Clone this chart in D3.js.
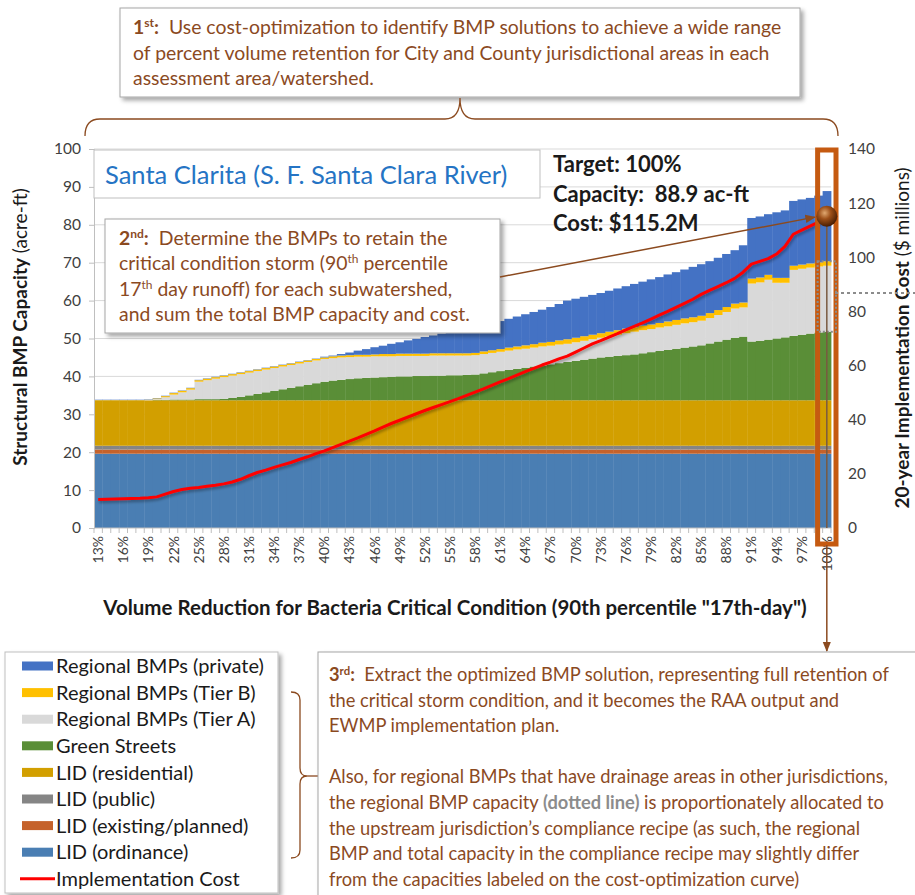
<!DOCTYPE html>
<html>
<head>
<meta charset="utf-8">
<script src="https://cdn.jsdelivr.net/npm/d3@7"></script>
<style>
  body { margin: 0; background: #fff; }
  svg text { font-family: Lato, "Open Sans", sans-serif; white-space: pre; }
</style>
</head>
<body>
<div id="chart"></div>
<script>
// categories: percent volume retention
const pcts = d3.range(13, 101).map(d => d + "%");

// constant LID layers (acre-ft)
const lidOrdinance = Array(88).fill(19.6);
const lidExisting = Array(88).fill(1.1);
const lidPublic = Array(88).fill(1.0);
const lidResidential = Array(88).fill(12.0);

const greenStreets = [0,0,0,0,0,0,0,
  0.1,0.1,0.2,0.2,0.2,0.3,0.3,0.3,0.4,0.6,0.9,1.3,1.7,
  2.1,2.5,2.9,3.3,3.7,4.1,4.5,4.9,5.2,5.4,
  5.6,5.8,5.9,6.0,6.1,6.2,6.3,6.3,6.4,6.4,
  6.5,6.5,6.6,6.6,6.7,6.8,7.1,7.4,7.7,8.0,
  8.3,8.6,8.9,9.2,9.5,9.8,10.1,10.4,10.7,11.0,
  11.3,11.5,11.7,11.9,12.1,12.4,12.7,13.0,13.3,13.6,
  13.9,14.2,14.5,15.0,15.5,16.0,16.5,16.8,15.5,15.7,
  16.0,16.3,16.6,17.0,17.3,17.6,17.9,18.1];

const tierA = [0,0,0,0,0,0,0.1,0.2,0.7,1.3,
  1.9,2.6,4.6,5.0,5.4,5.7,5.9,6.0,6.0,6.0,
  6.0,6.0,6.0,6.0,6.0,6.0,6.0,6.0,5.9,5.9,
  5.8,5.7,5.6,5.6,5.5,5.4,5.4,5.4,5.3,5.3,
  5.3,5.3,5.2,5.2,5.1,5.1,5.1,5.1,5.1,5.1,
  5.1,5.0,5.0,5.0,4.9,4.9,4.8,4.9,5.0,5.1,
  5.2,5.4,5.6,5.8,6.0,6.1,6.1,6.2,6.2,6.3,
  6.4,6.4,6.5,6.7,7.0,7.3,7.7,7.7,15.3,15.4,
  15.8,14.7,14.4,17.4,17.4,17.4,17.4,17.4];

const tierB = [0.05,0.05,0.05,0.05,0.05,0.05,0.05,0.2,0.3,0.4,
  0.4,0.4,0.4,0.4,0.4,0.4,0.4,0.4,0.4,0.4,
  0.4,0.4,0.4,0.4,0.4,0.4,0.4,0.4,0.5,0.5,
  0.5,0.5,0.5,0.5,0.6,0.6,0.6,0.6,0.6,0.6,
  0.6,0.6,0.6,0.6,0.6,0.6,0.7,0.7,0.7,0.8,
  0.8,0.9,0.9,1.0,1.0,1.1,1.2,1.2,1.2,1.2,
  1.2,1.2,1.2,1.2,1.2,1.2,1.2,1.2,1.3,1.3,
  1.3,1.3,1.3,1.3,1.3,1.3,1.3,1.3,1.3,1.3,
  1.3,1.3,1.3,1.1,1.1,1.1,1.1,1.2];

const regionalPrivate = [0.1,0.1,0.1,0.1,0.1,0.1,0.1,0.1,0.1,0.1,
  0.1,0.1,0.1,0.1,0.1,0.1,0.1,0.1,0.1,0.1,
  0.1,0.1,0.1,0.1,0.1,0.1,0.1,0.2,0.2,0.4,
  0.7,1.1,1.5,1.9,2.2,2.7,3.0,3.5,3.9,4.4,
  4.7,5.2,5.6,6.1,6.5,6.9,7.0,7.2,7.4,7.6,
  7.9,8.2,8.5,8.7,9.2,9.6,10.2,10.3,10.4,10.5,
  10.6,10.8,11.0,11.2,11.4,11.6,11.9,12.1,12.4,12.6,
  12.9,13.3,13.6,13.7,13.8,14.0,14.1,15.1,16.0,16.1,
  16.0,17.3,17.8,17.1,17.2,17.3,17.6,18.5];

// 20-year implementation cost ($ millions)
const cost = [10.5,10.6,10.7,10.8,10.9,11.0,11.2,11.5,12.5,13.5,
  14.2,14.7,15.0,15.4,15.8,16.3,17.0,18.0,19.3,20.5,
  21.4,22.4,23.3,24.2,25.3,26.3,27.5,28.5,29.7,30.9,
  32.1,33.3,34.6,35.9,37.3,38.6,39.8,41.0,42.2,43.4,
  44.5,45.6,46.7,47.8,49.0,50.2,51.4,52.7,54.0,55.2,
  56.5,57.8,59.0,60.2,61.3,62.5,63.5,65.0,66.5,68.0,
  69.2,70.5,71.8,73.2,74.5,75.8,77.2,78.6,80.0,81.5,
  83.0,84.5,86.3,87.8,89.2,90.6,92.2,94.5,97.5,98.5,
  99.5,101.2,104.0,108.5,110.0,111.5,113.0,115.2];

const layers = [
  { key: "lidOrdinance", name: "LID (ordinance)", color: "#4a7eb3", values: lidOrdinance },
  { key: "lidExisting", name: "LID (existing/planned)", color: "#c5622b", values: lidExisting },
  { key: "lidPublic", name: "LID (public)", color: "#858585", values: lidPublic },
  { key: "lidResidential", name: "LID (residential)", color: "#d29f00", values: lidResidential },
  { key: "greenStreets", name: "Green Streets", color: "#5a8e37", values: greenStreets },
  { key: "tierA", name: "Regional BMPs (Tier A)", color: "#d9d9d9", values: tierA },
  { key: "tierB", name: "Regional BMPs (Tier B)", color: "#ffc000", values: tierB },
  { key: "regionalPrivate", name: "Regional BMPs (private)", color: "#4472c4", values: regionalPrivate }
];

const brown = "#8b4a1f";
const W = 915, H = 895;
const plot = { left: 94, right: 831, top: 149, bottom: 528 };

const svg = d3.select("#chart").append("svg")
  .attr("width", W).attr("height", H)
  .attr("viewBox", [0, 0, W, H]);

const defs = svg.append("defs");
defs.append("filter").attr("id", "shadow")
  .attr("x", "-5%").attr("y", "-5%").attr("width", "115%").attr("height", "130%")
  .append("feDropShadow")
  .attr("dx", 3).attr("dy", 3).attr("stdDeviation", 2)
  .attr("flood-color", "#000").attr("flood-opacity", 0.35);
defs.append("filter").attr("id", "lineShadow")
  .attr("x", "-5%").attr("y", "-10%").attr("width", "110%").attr("height", "130%")
  .append("feDropShadow")
  .attr("dx", 1).attr("dy", 2).attr("stdDeviation", 1.5)
  .attr("flood-color", "#000").attr("flood-opacity", 0.35);
const ballGrad = defs.append("radialGradient").attr("id", "ball")
  .attr("cx", "40%").attr("cy", "35%").attr("r", "65%");
ballGrad.append("stop").attr("offset", "0%").attr("stop-color", "#e0a870");
ballGrad.append("stop").attr("offset", "45%").attr("stop-color", "#9c4f18");
ballGrad.append("stop").attr("offset", "100%").attr("stop-color", "#4a1e04");
defs.append("marker").attr("id", "arrow")
  .attr("viewBox", "0 0 10 10").attr("refX", 9).attr("refY", 5)
  .attr("markerWidth", 7).attr("markerHeight", 7).attr("orient", "auto")
  .append("path").attr("d", "M0,1 L10,5 L0,9 Z").attr("fill", brown);

// scales
const x = d3.scaleBand().domain(pcts).range([plot.left, plot.right]).padding(0);
const yL = d3.scaleLinear().domain([0, 100]).range([plot.bottom, plot.top]);
const yR = d3.scaleLinear().domain([0, 140]).range([plot.bottom, plot.top]);

// gridlines
svg.append("g")
  .selectAll("line")
  .data(d3.range(10, 101, 10))
  .join("line")
  .attr("x1", plot.left).attr("x2", plot.right)
  .attr("y1", d => yL(d)).attr("y2", d => yL(d))
  .attr("stroke", "#d9d9d9").attr("stroke-width", 1);

// stacked capacity
const table = pcts.map((p, i) => {
  const row = { pct: p };
  layers.forEach(l => { row[l.key] = l.values[i]; });
  return row;
});
const series = d3.stack().keys(layers.map(l => l.key))(table);

svg.append("g")
  .selectAll("g")
  .data(series)
  .join("g")
  .attr("fill", (d, i) => layers[i].color)
  .selectAll("rect")
  .data(d => d)
  .join("rect")
  .attr("x", d => x(d.data.pct))
  .attr("width", x.bandwidth() + 0.4)
  .attr("y", d => yL(d[1]))
  .attr("height", d => Math.max(0, yL(d[0]) - yL(d[1])));

// left axis
const axL = svg.append("g")
  .attr("transform", `translate(${plot.left},0)`)
  .call(d3.axisLeft(yL).tickValues(d3.range(0, 101, 10)).tickSize(5).tickPadding(8));
axL.select(".domain").attr("stroke", "#bfbfbf");
axL.selectAll(".tick line").attr("stroke", "#bfbfbf");
axL.selectAll(".tick text").attr("font-size", 15.5).attr("fill", "#404040")
  .attr("font-family", "Lato, sans-serif");

// right axis
const axR = svg.append("g")
  .attr("transform", `translate(${plot.right + 4},0)`)
  .call(d3.axisRight(yR).tickValues(d3.range(0, 141, 20)).tickSize(0).tickPadding(13));
axR.select(".domain").remove();
axR.selectAll(".tick text").attr("font-size", 15.5).attr("fill", "#404040")
  .attr("font-family", "Lato, sans-serif");

// bottom axis
const axB = svg.append("g").attr("transform", `translate(0,${plot.bottom})`);
axB.append("line").attr("x1", plot.left).attr("x2", plot.right)
  .attr("stroke", "#bfbfbf");
axB.selectAll("line.tk")
  .data(pcts.concat(["end"]))
  .join("line").attr("class", "tk")
  .attr("x1", (d, i) => plot.left + i * x.step()).attr("x2", (d, i) => plot.left + i * x.step())
  .attr("y1", 0).attr("y2", 5).attr("stroke", "#bfbfbf");
axB.selectAll("text")
  .data(pcts.filter((d, i) => i % 3 === 0))
  .join("text")
  .attr("transform", d => `translate(${x(d) + x.bandwidth() / 2 + 5},8) rotate(-90)`)
  .attr("text-anchor", "end")
  .attr("font-size", 14).attr("fill", "#404040")
  .text(d => d);

// implementation cost line
const costLine = d3.line()
  .x((d, i) => x(pcts[i]) + x.bandwidth() / 2)
  .y(d => yR(d));
svg.append("path")
  .datum(cost)
  .attr("d", costLine)
  .attr("fill", "none")
  .attr("stroke", "#ff0000")
  .attr("stroke-width", 3)
  .attr("stroke-linejoin", "round")
  .attr("filter", "url(#lineShadow)");

// axis titles
const tL = svg.append("text")
  .attr("transform", "translate(27,327) rotate(-90)")
  .attr("text-anchor", "middle").attr("font-size", 19).attr("fill", "#1a1a1a");
tL.append("tspan").attr("font-weight", "bold").text("Structural BMP Capacity");
tL.append("tspan").text(" (acre-ft)");

const tR = svg.append("text")
  .attr("transform", "translate(909,338) rotate(-90)")
  .attr("text-anchor", "middle").attr("font-size", 19).attr("fill", "#1a1a1a");
tR.append("tspan").attr("font-weight", "bold").text("20-year Implementation Cost");
tR.append("tspan").text(" ($ millions)");

svg.append("text")
  .attr("x", 455).attr("y", 615)
  .attr("text-anchor", "middle").attr("font-size", 20.5).attr("font-weight", "bold")
  .attr("fill", "#1a1a1a")
  .text('Volume Reduction for Bacteria Critical Condition (90th percentile "17th-day")');

// helper for text lines with superscripts / bold pieces
function richLine(sel, px, py, parts, size, color) {
  const t = sel.append("text").attr("x", px).attr("y", py)
    .attr("font-size", size).attr("fill", color);
  parts.forEach(p => {
    const s = t.append("tspan").text(p.t);
    if (p.b) s.attr("font-weight", "bold");
    if (p.sup) s.attr("baseline-shift", "super").attr("font-size", size * 0.62);
    if (p.c) s.attr("fill", p.c);
  });
  return t;
}

// title box
svg.append("rect").attr("x", plot.left).attr("y", 150).attr("width", 446).attr("height", 48)
  .attr("fill", "#fff").attr("stroke", "#bfbfbf");
svg.append("text").attr("x", 105).attr("y", 184)
  .attr("font-size", 25.5).attr("fill", "#2574c4")
  .text("Santa Clarita (S. F. Santa Clara River)");

// target annotation
const target = ["Target: 100%", "Capacity:  88.9 ac-ft", "Cost: $115.2M"];
svg.append("g").selectAll("text")
  .data(target)
  .join("text")
  .attr("x", 553).attr("y", (d, i) => 172 + i * 29.5)
  .attr("font-size", 22).attr("font-weight", "bold").attr("fill", "#1a1a1a")
  .text(d => d);

// highlighted 100% solution
const last = pcts[pcts.length - 1];
const cx = x(last) + x.bandwidth() / 2;
svg.append("rect")
  .attr("x", x(last) - 5).attr("y", yL(100) + 1)
  .attr("width", x.bandwidth() + 10).attr("height", plot.bottom + 15 - yL(100))
  .attr("fill", "none").attr("stroke", "#c55a11").attr("stroke-width", 5);
const lastStack = series.map(s => s[s.length - 1]);
svg.append("rect")
  .attr("x", x(last) - 5).attr("y", yL(lastStack[6][1]))
  .attr("width", x.bandwidth() + 10)
  .attr("height", yL(lastStack[5][0]) - yL(lastStack[6][1]))
  .attr("fill", "none").attr("stroke", "#8c8c8c").attr("stroke-width", 2)
  .attr("stroke-dasharray", "2,2");
svg.append("line")
  .attr("x1", plot.right + 4).attr("x2", W)
  .attr("y1", 293).attr("y2", 293)
  .attr("stroke", "#8c8c8c").attr("stroke-width", 2).attr("stroke-dasharray", "3,3");
svg.append("line")
  .attr("x1", cx).attr("x2", cx)
  .attr("y1", yR(cost[cost.length - 1])).attr("y2", plot.bottom)
  .attr("stroke", "#7a5a40").attr("stroke-width", 1.5);

// 2nd callout
const box2 = svg.append("g");
box2.append("rect").attr("x", 105).attr("y", 219).attr("width", 395).attr("height", 114)
  .attr("fill", "#fff").attr("stroke", "#a6a6a6").attr("filter", "url(#shadow)");
const lines2 = [
  [{ t: "2", b: 1 }, { t: "nd", b: 1, sup: 1 }, { t: ":", b: 1 }, { t: "  Determine the BMPs to retain the" }],
  [{ t: "critical condition storm (90" }, { t: "th", sup: 1 }, { t: " percentile" }],
  [{ t: "17" }, { t: "th", sup: 1 }, { t: " day runoff) for each subwatershed," }],
  [{ t: "and sum the total BMP capacity and cost." }]
];
lines2.forEach((l, i) => richLine(box2, 119, 245 + i * 25.3, l, 19.4, brown));

svg.append("line")
  .attr("x1", 500).attr("y1", 277)
  .attr("x2", cx - 12).attr("y2", yR(cost[cost.length - 1]) + 1)
  .attr("stroke", brown).attr("stroke-width", 1.5)
  .attr("marker-end", "url(#arrow)");

svg.append("circle")
  .attr("cx", cx).attr("cy", yR(cost[cost.length - 1]))
  .attr("r", 10.5).attr("fill", "url(#ball)");

// 1st callout and brace
const box1 = svg.append("g");
box1.append("rect").attr("x", 120).attr("y", 8).attr("width", 680).attr("height", 89)
  .attr("fill", "#fff").attr("stroke", "#a6a6a6").attr("filter", "url(#shadow)");
const lines1 = [
  [{ t: "1", b: 1 }, { t: "st", b: 1, sup: 1 }, { t: ":", b: 1 }, { t: "  Use cost-optimization to identify BMP solutions to achieve a wide range" }],
  [{ t: "of percent volume retention for City and County jurisdictional areas in each" }],
  [{ t: "assessment area/watershed." }]
];
lines1.forEach((l, i) => richLine(box1, 133, 34 + i * 25.5, l, 19.4, brown));

svg.append("path")
  .attr("d", "M85,136 Q85,119 100,119 L445,119 Q460,119 460,98 Q460,119 475,119 L823,119 Q838,119 838,136")
  .attr("fill", "none").attr("stroke", brown).attr("stroke-width", 1.3);

// arrow down to 3rd callout
svg.append("line")
  .attr("x1", cx).attr("x2", cx).attr("y1", plot.bottom + 17).attr("y2", 651)
  .attr("stroke", brown).attr("stroke-width", 1.5)
  .attr("marker-end", "url(#arrow)");

// legend
const legend = svg.append("g");
legend.append("rect").attr("x", 5).attr("y", 652).attr("width", 273).attr("height", 241)
  .attr("fill", "#fff").attr("stroke", "#bfbfbf").attr("filter", "url(#shadow)");
const legendItems = layers.slice().reverse()
  .map(l => ({ name: l.name, color: l.color, line: false }))
  .concat([{ name: "Implementation Cost", color: "#ff0000", line: true }]);
const li = legend.selectAll("g.item")
  .data(legendItems)
  .join("g").attr("class", "item")
  .attr("transform", (d, i) => `translate(0,${666 + i * 26.6})`);
li.filter(d => !d.line).append("rect")
  .attr("x", 22).attr("y", -4.5).attr("width", 31).attr("height", 9)
  .attr("fill", d => d.color);
li.filter(d => d.line).append("line")
  .attr("x1", 20).attr("x2", 55).attr("y1", 0).attr("y2", 0)
  .attr("stroke", d => d.color).attr("stroke-width", 3);
li.append("text")
  .attr("x", 56).attr("dy", "0.36em")
  .attr("font-size", 20).attr("fill", "#1a1a1a")
  .text(d => d.name);

// brace for the LID / regional items
svg.append("path")
  .attr("d", "M291,692 Q300,692 300,700 L300,768 Q300,776 307,776 Q300,776 300,784 L300,850 Q300,858 291,858")
  .attr("fill", "none").attr("stroke", brown).attr("stroke-width", 1.3);
svg.append("line").attr("x1", 307).attr("x2", 330).attr("y1", 776).attr("y2", 776)
  .attr("stroke", brown).attr("stroke-width", 1.3);

// 3rd callout
const box3 = svg.append("g");
box3.append("rect").attr("x", 318).attr("y", 652).attr("width", 620).attr("height", 260)
  .attr("fill", "#fff").attr("stroke", "#a6a6a6").attr("filter", "url(#shadow)");
const lines3 = [
  [{ t: "3", b: 1 }, { t: "rd", b: 1, sup: 1 }, { t: ":", b: 1 }, { t: "  Extract the optimized BMP solution, representing full retention of" }],
  [{ t: "the critical storm condition, and it becomes the RAA output and" }],
  [{ t: "EWMP implementation plan." }],
  [],
  [{ t: "Also, for regional BMPs that have drainage areas in other jurisdictions," }],
  [{ t: "the regional BMP capacity " }, { t: "(dotted line)", b: 1, c: "#8c8c8c" }, { t: " is proportionately allocated to" }],
  [{ t: "the upstream jurisdiction\u2019s compliance recipe (as such, the regional" }],
  [{ t: "BMP and total capacity in the compliance recipe may slightly differ" }],
  [{ t: "from the capacities labeled on the cost-optimization curve)" }]
];
lines3.forEach((l, i) => { if (l.length) richLine(box3, 329, 681 + i * 25.6, l, 18.3, brown); });
</script>
</body>
</html>
